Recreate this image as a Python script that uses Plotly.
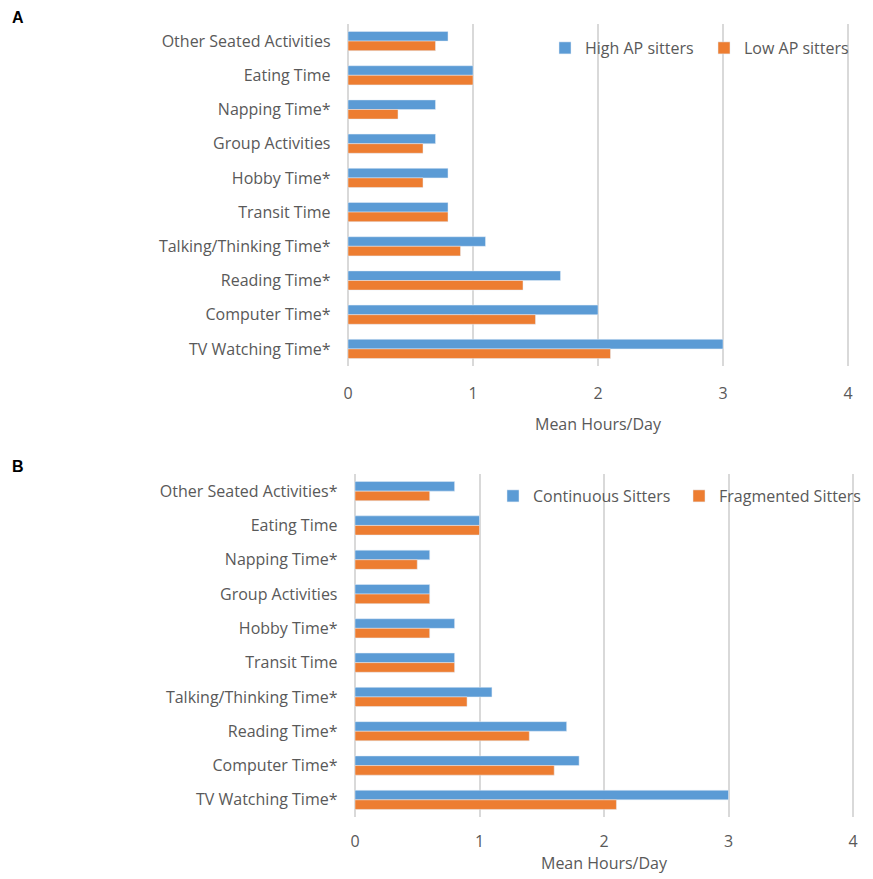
import plotly.graph_objects as go

# Activity categories, listed top to bottom
cats_a = ["Other Seated Activities", "Eating Time", "Napping Time*", "Group Activities",
          "Hobby Time*", "Transit Time", "Talking/Thinking Time*", "Reading Time*",
          "Computer Time*", "TV Watching Time*"]
cats_b = ["Other Seated Activities*", "Eating Time", "Napping Time*", "Group Activities",
          "Hobby Time*", "Transit Time", "Talking/Thinking Time*", "Reading Time*",
          "Computer Time*", "TV Watching Time*"]

# Panel A: mean hours/day by activity-pattern group
high_ap = [0.8, 1.0, 0.7, 0.7, 0.8, 0.8, 1.1, 1.7, 2.0, 3.0]
low_ap = [0.7, 1.0, 0.4, 0.6, 0.6, 0.8, 0.9, 1.4, 1.5, 2.1]

# Panel B: mean hours/day by sitting pattern
continuous = [0.8, 1.0, 0.6, 0.6, 0.8, 0.8, 1.1, 1.7, 1.8, 3.0]
fragmented = [0.6, 1.0, 0.5, 0.6, 0.6, 0.8, 0.9, 1.4, 1.6, 2.1]

x_ticks = [0, 1, 2, 3, 4]

BLUE = "#5B9BD5"
ORANGE = "#ED7D31"
GRAY_TXT = "#595959"
GRID = "#D9D9D9"
FONT = "Open Sans"
FS = 16

W, H = 873, 879

fig = go.Figure()
fig.add_trace(go.Bar(y=cats_a, x=high_ap, orientation="h", name="High AP sitters",
                     marker_color=BLUE, xaxis="x", yaxis="y", legend="legend"))
fig.add_trace(go.Bar(y=cats_a, x=low_ap, orientation="h", name="Low AP sitters",
                     marker_color=ORANGE, xaxis="x", yaxis="y", legend="legend"))
fig.add_trace(go.Bar(y=cats_b, x=continuous, orientation="h", name="Continuous Sitters",
                     marker_color=BLUE, xaxis="x2", yaxis="y2", legend="legend2"))
fig.add_trace(go.Bar(y=cats_b, x=fragmented, orientation="h", name="Fragmented Sitters",
                     marker_color=ORANGE, xaxis="x2", yaxis="y2", legend="legend2"))


def px_x(p):
    return p / W


def px_y(p):
    return 1 - p / H


PAD = 0.02  # small range padding so the outer gridlines are drawn


def xaxis_cfg(x0, x4, anchor, tick_standoff, title_standoff):
    unit = (x4 - x0) / 4
    return dict(domain=[px_x(x0 - PAD * unit), px_x(x4 + PAD * unit)], anchor=anchor,
                range=[-PAD, 4 + PAD], tickvals=x_ticks, automargin=False,
                showgrid=True, gridcolor=GRID, gridwidth=1.5,
                zeroline=True, zerolinecolor=GRID, zerolinewidth=1.5,
                showline=False, ticks="", ticklabelstandoff=tick_standoff,
                tickfont=dict(family=FONT, size=FS, color=GRAY_TXT),
                title=dict(text="Mean Hours/Day",
                           font=dict(family=FONT, size=FS, color=GRAY_TXT),
                           standoff=title_standoff))


ycommon = dict(autorange="reversed", showgrid=False, showline=False, zeroline=False, ticks="",
               automargin=False, ticklabelstandoff=14,
               tickfont=dict(family=FONT, size=FS, color=GRAY_TXT))

legcommon = dict(orientation="h", bgcolor="rgba(0,0,0,0)", xanchor="left", yanchor="top",
                 font=dict(family=FONT, size=FS, color=GRAY_TXT), itemwidth=30,
                 tracegroupgap=0, entrywidthmode="pixels")

fig.update_layout(
    width=W, height=H,
    margin=dict(l=0, r=0, t=0, b=0, autoexpand=False),
    paper_bgcolor="white", plot_bgcolor="white",
    barmode="group", bargap=0.44, bargroupgap=0,
    xaxis=xaxis_cfg(348, 848, "y", 16, 15),
    yaxis=dict(domain=[px_y(366), px_y(24)], anchor="x", **ycommon),
    xaxis2=xaxis_cfg(355, 853, "y2", 13, 5),
    yaxis2=dict(domain=[px_y(817), px_y(474)], anchor="x2", **ycommon),
    legend=dict(x=px_x(545), y=px_y(31), entrywidth=114, **legcommon),
    legend2=dict(x=px_x(493), y=px_y(479), entrywidth=141, **legcommon),
    annotations=[
        dict(text="<b>A</b>", x=px_x(10), y=px_y(17), xref="paper", yref="paper",
             xanchor="left", yanchor="middle", showarrow=False,
             font=dict(family="Liberation Sans", size=16, color="black")),
        dict(text="<b>B</b>", x=px_x(10), y=px_y(466), xref="paper", yref="paper",
             xanchor="left", yanchor="middle", showarrow=False,
             font=dict(family="Liberation Sans", size=16, color="black")),
    ],
)

fig.write_html("out.html")
